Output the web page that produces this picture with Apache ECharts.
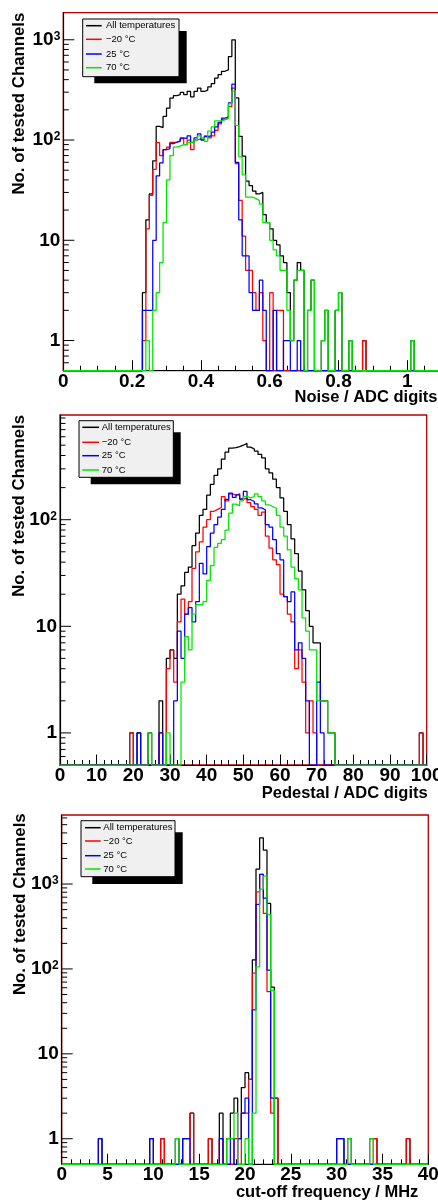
<!DOCTYPE html>
<html><head><meta charset="utf-8">
<script src="https://cdn.jsdelivr.net/npm/echarts@6.0.0/dist/echarts.min.js"></script>
<style>html,body{margin:0;padding:0;background:#fff;}#chart{width:438px;height:1201px;}</style>
</head><body>
<div id="chart"></div>
<script>
// ---------------- DATA ----------------
const legendNames = ['All temperatures', '\u221220 \u00b0C', '25 \u00b0C', '70 \u00b0C'];
const xTitles = ['Noise / ADC digits', 'Pedestal / ADC digits', 'cut-off frequency / MHz'];
const yTitle = 'No. of tested Channels';
const yDecadeLabels = ['1', '10', '10^2', '10^3'];

// Panel 1: noise, bins of 0.01 starting at 0.23
const noiseBinStart = 0.23, noiseBinWidth = 0.01;
const noiseAll = [3,16,29,62,137,133,172,208,262,277, 283,298,283,305,270,305,330,305,315,338, 365,415,450,485,500,680,1000,263,109,69, 39,35,31,29,30,18,15,13,10,9, 7,6,3,1,4,6,5,0,2,4, 0,0,1,2,0,0,2,3,0,0, 1,0,0,0,1,0,0,0,0,0, 0,0,0,0,0,0,0,0,1];
const noiseM20 = [1,13,28,51,94,70,80,85,95,95, 97,103,90,100,80,100,103,100,110,105, 110,125,145,160,165,215,330,58,25,11, 5,5,3,2,3,1,0,3,0,2, 2,0,0,0,0,0,0,0,0,0, 0,0,0,0,0,0,0,0,0,0, 0,0,0,0,1,0,0,0,0,0, 0,0,0,0,0,0,0,0,0];
const noise25 = [2,2,2,10,44,59,80,82,92,95, 98,105,103,110,95,105,115,100,108,110, 120,135,150,165,170,235,360,60,16,7, 7,3,2,2,4,2,0,0,2,0, 0,1,1,0,0,1,0,0,0,0, 0,0,0,0,0,0,0,0,0,0, 0,0,0,0,0,0,0,0,0,0, 0,0,0,0,0,0,0,0,0];
const noise70 = [0,1,0,2,3,6,15,40,70,85, 87,90,90,95,95,100,110,105,97,123, 135,155,155,160,165,230,310,140,68,45, 27,27,26,25,23,15,15,10,8,7, 5,5,2,1,4,5,5,0,2,4, 0,0,1,2,0,0,2,3,0,0, 1,0,0,0,0,0,0,0,0,0, 0,0,0,0,0,0,0,0,1];

// Panel 2: pedestal, bins of 1 starting at 19
const pedBinStart = 19, pedBinWidth = 1;
const pedAll = [1,0,1,0,0,1,0,0,2,0, 5,6,5,20,24,32,36,57,75,110, 125,170,215,260,300,370,430,470,475,485, 500,520,480,460,440,410,380,300,275,240, 200,160,120,90,66,48,33,22,14,10, 7,7,2,2,1,1,0,0,0,0, 0,0,0,0,0,0,0,0,0,0, 0,0,0,0,0,0,0,0,0,1];
const pedM20 = [1,0,0,0,0,0,0,0,1,0, 4,6,3,11,18,13,17,35,50,62, 85,100,120,125,130,165,150,175,170,175, 155,160,145,133,125,110,118,70,54,42, 38,20,19,13,11,4,6,3,1,2, 1,0,0,0,0,0,0,0,0,0, 0,0,0,0,0,0,0,0,0,0, 0,0,0,0,0,0,0,0,0,1];
const ped25 = [0,0,1,0,0,0,0,0,1,0, 0,0,2,9,5,13,15,11,17,39, 31,56,75,90,106,125,155,178,162,171, 157,184,154,148,141,129,124,90,85,65, 48,42,19,17,21,6,7,5,2,0, 0,3,1,0,0,0,0,0,0,0, 0,0,0,0,0,0,0,0,0,0, 0,0,0,0,0,0,0,0,0,0];
const ped70 = [0,0,0,0,0,1,0,0,0,0, 1,0,0,0,3,8,6,13,16,16, 17,27,37,55,60,65,80,115,140,135, 150,165,160,165,175,165,150,138,133,128, 110,85,70,52,36,28,22,12,9,6, 6,2,2,2,1,1,0,0,0,0, 0,0,0,0,0,0,0,0,0,0, 0,0,0,0,0,0,0,0,0,0];

// Panel 3: cut-off frequency, bins of 0.4 (only filled bins listed)
const cutBinWidth = 0.4;
const cutBinEdges = [4.0, 9.6, 10.8, 12.4, 13.2, 13.6, 14.0, 16.0, 17.2, 18.0, 18.4, 18.8, 19.2, 19.6, 20.0, 20.4, 20.8, 21.2, 21.6, 22.0, 22.4, 22.8, 23.2, 30.0, 30.4, 31.2, 33.6, 34.0, 37.6];
const cutAll = [1,1,1,1,1,1,2,1,2,1,2,3,1,4,6,5,128,1500,3500,2500,590,61,3,1,1,1,1,1,1];
const cutM20 = [0,0,1,0,0,0,2,1,1,0,0,1,0,2,2,5,89,810,1300,450,54,2,3,0,0,0,0,1,1];
const cut25  = [1,1,0,0,1,1,0,0,1,0,1,0,1,2,3,0,33,575,1300,680,97,3,0,1,1,0,0,0,0];
const cut70  = [0,0,0,1,0,0,0,0,0,1,1,2,0,0,1,0,2,106,870,1240,440,56,0,0,0,1,1,0,0];

// ---------------- STYLE / LAYOUT ----------------
const FONT = "'Liberation Sans', Arial, Helvetica, sans-serif";
const lineColors = ['#000000', '#ff0000', '#0000ff', '#00e600'];
const frameColor = '#b40000';

function denseEdges(start, width, len) {
  return Array.from({length: len}, (_, i) => +(start + i * width).toFixed(4));
}

const panels = [
  { grid: {left: 63.3, top: 12.7, width: 412.8, height: 358},
    x: {min: 0, max: 1.2, interval: 0.2, minor: 4}, y: {min: 0.5, max: 1862}, labelMargin: 2,
    width: noiseBinWidth, edges: denseEdges(noiseBinStart, noiseBinWidth, noiseAll.length),
    series: [noiseAll, noiseM20, noise25, noise70],
    xTitle: {x: 437.5, y: 397.8}, yTitle: {x: 19.2, y: 12.7},
    legend: {box: [82.7, 19, 96.3, 57.7], shadow: [94.3, 31, 92.4, 52.3], rows: [25.7, 39.3, 54, 67.7], line: [86, 101.7], textX: 106}},
  { grid: {left: 60, top: 415, width: 366.7, height: 350},
    x: {min: 0, max: 100, interval: 10, minor: 5}, y: {min: 0.5, max: 960}, labelMargin: 1,
    width: pedBinWidth, edges: denseEdges(pedBinStart, pedBinWidth, pedAll.length),
    series: [pedAll, pedM20, ped25, ped70],
    xTitle: {x: 427.7, y: 793.4}, yTitle: {x: 19.2, y: 415},
    legend: {box: [79, 420.7, 94.3, 56.6], shadow: [90.7, 432.3, 90, 52], rows: [427.3, 442.3, 455.7, 470], line: [82.3, 99], textX: 101.7}},
  { grid: {left: 61.7, top: 815, width: 366.6, height: 349.3},
    x: {min: 0, max: 40, interval: 5, minor: 5}, y: {min: 0.5, max: 6500}, labelMargin: 1,
    width: cutBinWidth, edges: cutBinEdges,
    series: [cutAll, cutM20, cut25, cut70],
    xTitle: {x: 418.3, y: 1192.8}, yTitle: {x: 20.8, y: 813.3},
    legend: {box: [81, 820.7, 94, 56], shadow: [92.3, 832.3, 90.4, 51.7], rows: [827.7, 841, 855.7, 869], line: [85, 100.7], textX: 103.3}}
];

function buildHist(edges, counts, width, xmin, xmax, floor) {
  const n = Math.round((xmax - xmin) / width);
  const byIndex = new Map();
  edges.forEach((e, i) => byIndex.set(Math.round((e - xmin) / width), counts[i]));
  const pts = [];
  for (let i = 0; i < n; i++) {
    const c = byIndex.get(i) || 0;
    pts.push([+(xmin + i * width).toFixed(4), c > 0 ? c : floor]);
  }
  pts.push([xmax, pts[n - 1][1]]);
  return pts;
}

function yTickData(xmin, ymin, ymax) {
  const out = [];
  for (let e = -1; e <= 4; e++) {
    for (let m = 1; m <= 9; m++) {
      const v = m * Math.pow(10, e);
      if (v <= ymin * 1.0001 || v > ymax) continue;
      out.push([xmin, v, m === 1 ? 11 : 5.5]);
    }
  }
  return out;
}

function yLabel(v) {
  const e = Math.log10(v);
  const k = Math.round(e);
  if (Math.abs(e - k) > 1e-6 || k < 0 || k >= yDecadeLabels.length) return '';
  const parts = yDecadeLabels[k].split('^');
  return parts.length > 1 ? '{b|' + parts[0] + '}{s|' + parts[1] + '}' : '{b|' + parts[0] + '}';
}

const grids = [], xAxes = [], yAxes = [], series = [], graphics = [];
panels.forEach((p, pi) => {
  grids.push(Object.assign({show: true, borderColor: frameColor, borderWidth: 1.3, backgroundColor: 'transparent',
    containLabel: false, outerBoundsMode: 'none'}, p.grid));
  xAxes.push({
    type: 'value', gridIndex: pi, min: p.x.min, max: p.x.max, interval: p.x.interval,
    axisLine: {show: true, onZero: false, lineStyle: {color: '#000', width: 1.2}},
    axisTick: {show: true, inside: true, length: 10.5, lineStyle: {color: '#000', width: 1}},
    minorTick: {show: true, splitNumber: p.x.minor, length: 5, lineStyle: {color: '#000', width: 1}},
    axisLabel: {show: true, margin: p.labelMargin, color: '#000', fontFamily: FONT, fontWeight: 'bold', fontSize: 19},
    splitLine: {show: false}, minorSplitLine: {show: false}
  });
  yAxes.push({
    type: 'log', logBase: 10, gridIndex: pi, min: p.y.min, max: p.y.max,
    axisLine: {show: true, lineStyle: {color: '#000', width: 1.2}},
    axisTick: {show: false}, splitLine: {show: false},
    axisLabel: {show: true, margin: 3, formatter: yLabel,
      rich: {b: {fontFamily: FONT, fontWeight: 'bold', fontSize: 19, color: '#000'},
             s: {fontFamily: FONT, fontWeight: 'bold', fontSize: 12, color: '#000', verticalAlign: 'top'}}}
  });
  p.series.forEach((counts, si) => {
    series.push({
      type: 'line', name: legendNames[si], xAxisIndex: pi, yAxisIndex: pi, step: 'end',
      data: buildHist(p.edges, counts, p.width, p.x.min, p.x.max, p.y.min),
      showSymbol: false, symbol: 'none', clip: false, silent: true, animation: false,
      lineStyle: {color: lineColors[si], width: 1.25}, z: 3 + si
    });
  });
  series.push({
    type: 'custom', xAxisIndex: pi, yAxisIndex: pi, silent: true, animation: false, clip: false, z: 10,
    data: yTickData(p.x.min, p.y.min, p.y.max),
    encode: {x: 0, y: 1},
    renderItem: (params, api) => {
      const pt = api.coord([api.value(0), api.value(1)]);
      return {type: 'line', shape: {x1: pt[0], y1: pt[1], x2: pt[0] + api.value(2), y2: pt[1]},
              style: {stroke: '#000', lineWidth: 1}};
    }
  });
  graphics.push({type: 'text', x: p.xTitle.x, y: p.xTitle.y, z: 50,
    style: {text: xTitles[pi], align: 'right', verticalAlign: 'middle', fill: '#000', fontFamily: FONT, fontWeight: 'bold', fontSize: 16.5}});
  graphics.push({type: 'text', x: p.yTitle.x, y: p.yTitle.y, rotation: Math.PI / 2, z: 50,
    style: {text: yTitle, align: 'right', verticalAlign: 'middle', fill: '#000', fontFamily: FONT, fontWeight: 'bold', fontSize: 16.8}});
  const L = p.legend;
  graphics.push({type: 'rect', z: 60, shape: {x: L.shadow[0], y: L.shadow[1], width: L.shadow[2], height: L.shadow[3]}, style: {fill: '#000'}});
  graphics.push({type: 'rect', z: 61, shape: {x: L.box[0], y: L.box[1], width: L.box[2], height: L.box[3]}, style: {fill: '#f0f0f0', stroke: '#000', lineWidth: 1}});
  legendNames.forEach((nm, i) => {
    graphics.push({type: 'line', z: 62, shape: {x1: L.line[0], y1: L.rows[i], x2: L.line[1], y2: L.rows[i]}, style: {stroke: lineColors[i], lineWidth: 1.5}});
    graphics.push({type: 'text', z: 62, x: L.textX, y: L.rows[i],
      style: {text: nm, align: 'left', verticalAlign: 'middle', fill: '#000', fontFamily: FONT, fontSize: 9.5}});
  });
});

const chart = echarts.init(document.getElementById('chart'), null, {renderer: 'canvas'});
chart.setOption({
  animation: false,
  backgroundColor: '#ffffff',
  grid: grids, xAxis: xAxes, yAxis: yAxes, series: series,
  graphic: {elements: graphics}
});
</script>
</body></html>
